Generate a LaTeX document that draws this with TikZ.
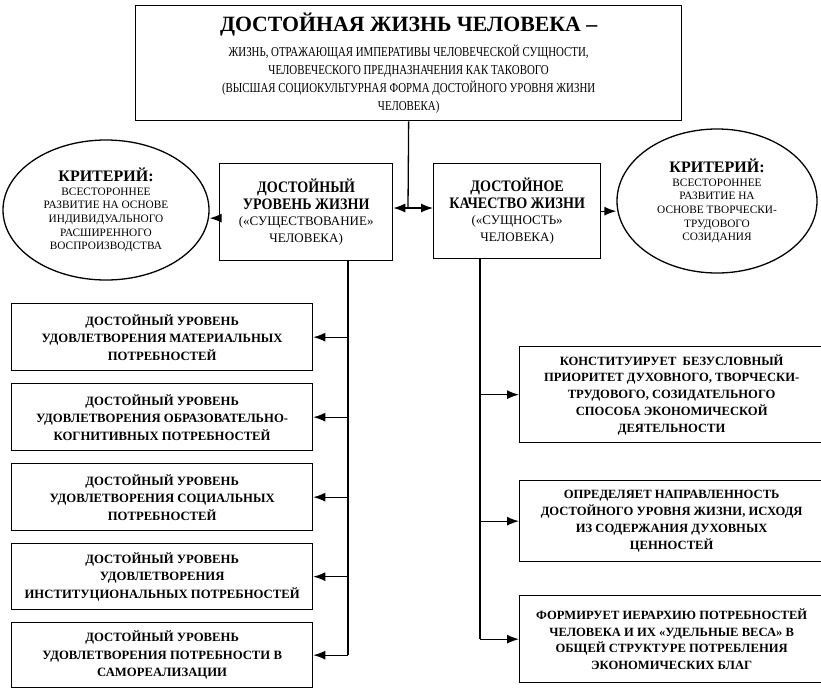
\documentclass[tikz,border=0pt]{standalone}
\usepackage{fontspec}
\setmainfont{Liberation Serif}
\newfontfamily\narrowserif{Liberation Serif}[FakeStretch=0.8]
\newfontfamily\semiserif{Liberation Serif}[FakeStretch=0.88]
\newcommand\headfont{\semiserif\bfseries\fontsize{16}{16.7}\selectfont}
\newcommand\critfont{\rmfamily\bfseries\fontsize{16}{15}\selectfont}
\usetikzlibrary{shapes.geometric, arrows.meta}

\begin{document}
\begin{tikzpicture}[x=1pt, y=-1pt, line width=1.3pt, every node/.append style={text=black, align=center, inner sep=0pt},
	box/.style={draw, anchor=north west},
	oval/.style={draw, ellipse, minimum width=206pt, minimum height=140pt, font=\fontsize{11.3}{13.6}\selectfont},
	needbox/.style={box, minimum width=301pt, font=\bfseries\fontsize{12.7}{17.5}\selectfont},
	rolebox/.style={box, minimum width=304pt, font=\bfseries\fontsize{12.6}{16.8}\selectfont},
	arr/.style={-{Latex[length=12pt, width=9pt]}}]
	\useasboundingbox (0,0) rectangle (821,689);
	
	\node[box, minimum width=546pt, minimum height=115pt, font=\narrowserif\fontsize{13.6}{18}\selectfont] (life) at (135,5)
		{{\rmfamily\bfseries\fontsize{21.8}{24}\selectfont ДОСТОЙНАЯ ЖИЗНЬ ЧЕЛОВЕКА –}\\[7pt]
		ЖИЗНЬ, ОТРАЖАЮЩАЯ ИМПЕРАТИВЫ ЧЕЛОВЕЧЕСКОЙ СУЩНОСТИ,\\ЧЕЛОВЕЧЕСКОГО ПРЕДНАЗНАЧЕНИЯ КАК ТАКОВОГО\\
		(ВЫСШАЯ СОЦИОКУЛЬТУРНАЯ ФОРМА ДОСТОЙНОГО УРОВНЯ ЖИЗНИ\\ЧЕЛОВЕКА)};
	
	\node[box, minimum width=173pt, minimum height=97pt, font=\fontsize{13}{16.7}\selectfont] (level) at (219,163)
		{{\headfont ДОСТОЙНЫЙ}\\{\headfont УРОВЕНЬ ЖИЗНИ}\\(«СУЩЕСТВОВАНИЕ»\\ЧЕЛОВЕКА)};
	\node[box, minimum width=167pt, minimum height=95pt, font=\fontsize{13}{16.7}\selectfont] (quality) at (433,163)
		{{\headfont ДОСТОЙНОЕ}\\{\headfont КАЧЕСТВО ЖИЗНИ}\\(«СУЩНОСТЬ»\\ЧЕЛОВЕКА)};
	
	\node[oval] (critL) at (106,210) {{\critfont КРИТЕРИЙ:}\\ВСЕСТОРОННЕЕ\\РАЗВИТИЕ НА ОСНОВЕ\\ИНДИВИДУАЛЬНОГО\\РАСШИРЕННОГО\\ВОСПРОИЗВОДСТВА};
	\node[oval, minimum width=200pt, minimum height=144pt] (critR) at (717,201) {{\critfont КРИТЕРИЙ:}\\ВСЕСТОРОННЕЕ\\РАЗВИТИЕ НА\\ОСНОВЕ ТВОРЧЕСКИ-\\ТРУДОВОГО\\СОЗИДАНИЯ};
	
	\node[needbox, minimum height=67pt] (need1) at (11,303) {ДОСТОЙНЫЙ УРОВЕНЬ\\УДОВЛЕТВОРЕНИЯ МАТЕРИАЛЬНЫХ\\ПОТРЕБНОСТЕЙ};
	\node[needbox, minimum height=67pt] (need2) at (11,383) {ДОСТОЙНЫЙ УРОВЕНЬ\\УДОВЛЕТВОРЕНИЯ ОБРАЗОВАТЕЛЬНО-\\КОГНИТИВНЫХ ПОТРЕБНОСТЕЙ};
	\node[needbox, minimum height=67pt] (need3) at (11,463) {ДОСТОЙНЫЙ УРОВЕНЬ\\УДОВЛЕТВОРЕНИЯ СОЦИАЛЬНЫХ\\ПОТРЕБНОСТЕЙ};
	\node[needbox, minimum height=66pt] (need4) at (11,543) {ДОСТОЙНЫЙ УРОВЕНЬ\\УДОВЛЕТВОРЕНИЯ\\ИНСТИТУЦИОНАЛЬНЫХ ПОТРЕБНОСТЕЙ};
	\node[needbox, minimum height=65pt] (need5) at (11,622) {ДОСТОЙНЫЙ УРОВЕНЬ\\УДОВЛЕТВОРЕНИЯ ПОТРЕБНОСТИ В\\САМОРЕАЛИЗАЦИИ};
	
	\node[rolebox, minimum height=96pt] (role1) at (519,346) {КОНСТИТУИРУЕТ\ \ БЕЗУСЛОВНЫЙ\\ПРИОРИТЕТ ДУХОВНОГО, ТВОРЧЕСКИ-\\ТРУДОВОГО, СОЗИДАТЕЛЬНОГО\\СПОСОБА ЭКОНОМИЧЕСКОЙ\\ДЕЯТЕЛЬНОСТИ};
	\node[rolebox, minimum height=81pt] (role2) at (519,480) {ОПРЕДЕЛЯЕТ НАПРАВЛЕННОСТЬ\\ДОСТОЙНОГО УРОВНЯ ЖИЗНИ, ИСХОДЯ\\ИЗ СОДЕРЖАНИЯ ДУХОВНЫХ\\ЦЕННОСТЕЙ};
	\node[rolebox, minimum height=87pt] (role3) at (519,595) {ФОРМИРУЕТ ИЕРАРХИЮ ПОТРЕБНОСТЕЙ\\ЧЕЛОВЕКА И ИХ «УДЕЛЬНЫЕ ВЕСА» В\\ОБЩЕЙ СТРУКТУРЕ ПОТРЕБЛЕНИЯ\\ЭКОНОМИЧЕСКИХ БЛАГ};
	
	\coordinate (split) at (408,208);
	\coordinate (needbus) at (348,260);
	\coordinate (rolebus) at (480,258);
	
	\draw (life.south) -- (split);
	\draw[arr] (split) -- (level.east |- split);
	\draw[arr] (split) -- (quality.west |- split);
	\draw[arr] ([yshift=-6pt]level.west) -- ([yshift=-6pt]level.west -| critL.east);
	\draw[arr] (quality.east) -- (quality.east -| critR.west);
	
	\draw (needbus) -- (needbus |- need5.east);
	\draw[arr] (needbus |- need1.east) -- (need1.east);
	\draw[arr] (needbus |- need2.east) -- (need2.east);
	\draw[arr] (needbus |- need3.east) -- (need3.east);
	\draw[arr] (needbus |- need4.east) -- (need4.east);
	\draw[arr] (needbus |- need5.east) -- (need5.east);
	
	\draw (rolebus) -- (rolebus |- role3.west);
	\draw[arr] (rolebus |- role1.west) -- (role1.west);
	\draw[arr] (rolebus |- role2.west) -- (role2.west);
	\draw[arr] (rolebus |- role3.west) -- (role3.west);
\end{tikzpicture}
\end{document}
